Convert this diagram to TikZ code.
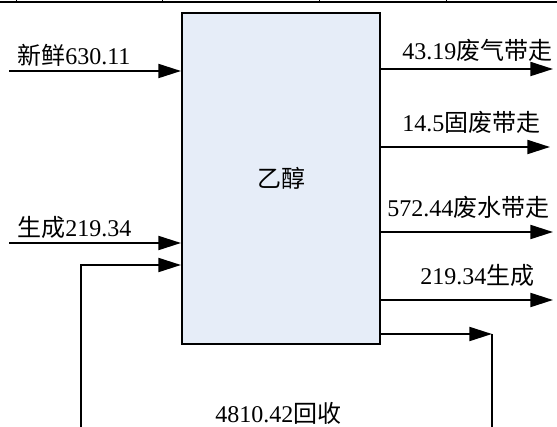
\documentclass[tikz,border=0pt]{standalone}
\usepackage{fontspec}
\setmainfont{Liberation Serif}
\newfontfamily\cjk{Noto Sans CJK SC}
\usetikzlibrary{arrows.meta}
\definecolor{boxfill}{RGB}{230,237,248}
\tikzset{
  arr/.style={line width=1.5pt,-{Triangle[length=17pt,width=10.5pt]}},
  flow/.style={line width=1.5pt},
  lbl/.style={anchor=west,inner sep=0pt,font=\fontsize{18pt}{20pt}\selectfont},
  unitbox/.style={draw,line width=1.5pt,fill=boxfill,inner sep=0pt,
    minimum width=148.5pt,minimum height=248.25pt,font=\fontsize{18pt}{20pt}\selectfont}
}
\begin{document}
\begin{tikzpicture}[x=0.75pt,y=-0.75pt]
\useasboundingbox (0,0) rectangle (557,427);
% top border fragment
\draw[line width=1.5pt] (0,2) -- (557,2);
\foreach \tx in {16,162,319,446} \draw[line width=0.6pt] (\tx,0) -- (\tx,2);
% main box
\node[unitbox] (box) at (281,178.5) {\cjk 乙醇};
% inputs
\coordinate (in1) at (9,71);
\coordinate (in2) at (9,243);
\draw[arr] (in1) -- (box.west |- in1);
\draw[arr] (in2) -- (box.west |- in2);
\node[lbl] (t1) at (17,55) {{\cjk 新鲜}630.11};
\node[lbl] (t2) at (17,227) {{\cjk 生成}219.34};
% outputs
\coordinate (o1) at (553,69);
\coordinate (o2) at (550,147);
\coordinate (o3) at (553,232);
\coordinate (o4) at (553,300);
\draw[arr] (box.east |- o1) -- (o1);
\draw[arr] (box.east |- o2) -- (o2);
\draw[arr] (box.east |- o3) -- (o3);
\draw[arr] (box.east |- o4) -- (o4);
\node[lbl] (t3) at (402,50) {43.19{\cjk 废气带走}};
\node[lbl] (t4) at (402,122) {14.5{\cjk 固废带走}};
\node[lbl] (t5) at (387,207) {572.44{\cjk 废水带走}};
\node[lbl] (t6) at (420,275) {219.34{\cjk 生成}};
% recycle loop
\coordinate (r1) at (492,334);
\coordinate (r2) at (492,427);
\coordinate (l1) at (81,427);
\coordinate (l2) at (81,265);
\draw[arr] (box.east |- r1) -- (r1);
\draw[flow] (r1) -- (r2);
\draw[arr] (l1) -- (l2) -- (box.west |- l2);
\node[lbl] (t7) at (215,413) {4810.42{\cjk 回收}};
\end{tikzpicture}
\end{document}
